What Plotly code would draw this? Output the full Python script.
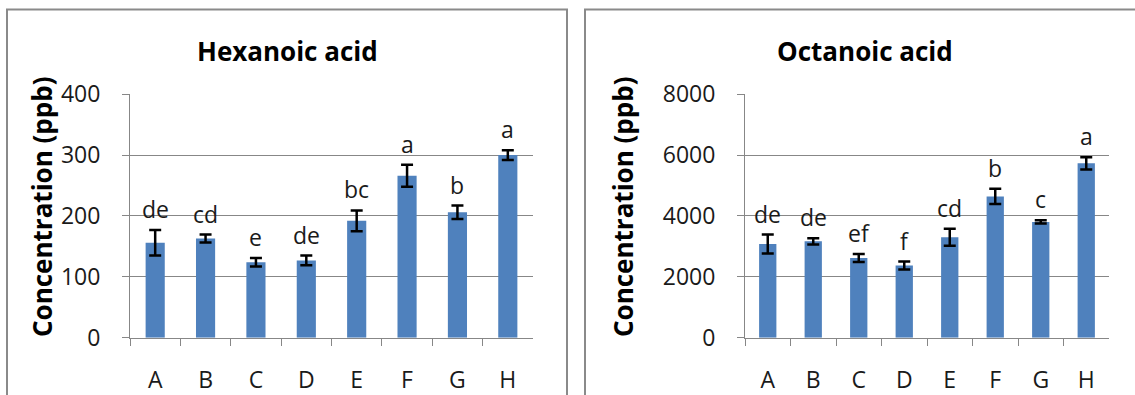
import plotly.graph_objects as go

categories = ["A", "B", "C", "D", "E", "F", "G", "H"]

hex_values = [156, 163, 124, 127, 192, 266, 206, 300]
hex_errors = [21, 6.5, 7, 8, 17, 18, 11, 8]
hex_letters = ["de", "cd", "e", "de", "bc", "a", "b", "a"]

oct_values = [3080, 3165, 2620, 2370, 3300, 4640, 3805, 5730]
oct_errors = [310, 100, 130, 130, 280, 250, 50, 200]
oct_letters = ["de", "de", "ef", "f", "cd", "b", "c", "a"]

W, H = 1135, 395
BAR = "#4F81BD"
GRID = "#878787"
FONT = "Open Sans"
TXT = "#1a1a1a"


def px(x):
    return x / W


def py(y):
    return (H - y) / H


fig = go.Figure()

panels = [
    ("x", "y", hex_values, hex_errors, hex_letters),
    ("x2", "y2", oct_values, oct_errors, oct_letters),
]

for xa, ya, vals, errs, letters in panels:
    fig.add_trace(go.Bar(
        x=categories, y=vals, xaxis=xa, yaxis=ya,
        marker=dict(color=BAR, line=dict(width=0)),
        error_y=dict(type="data", array=errs, visible=True,
                     color="black", thickness=2.5, width=6),
        showlegend=False, hoverinfo="skip",
    ))
    for c, v, e, l in zip(categories, vals, errs, letters):
        fig.add_annotation(
            x=c, y=v + e, xref=xa, yref=ya, text=l, showarrow=False,
            yanchor="bottom", yshift=3,
            font=dict(family=FONT, size=23, color=TXT),
        )

common_x = dict(
    showline=True, linecolor=GRID, linewidth=1,
    ticks="outside", tickson="boundaries", ticklen=7, tickcolor=GRID,
    tickfont=dict(family=FONT, size=23, color=TXT),
    ticklabelstandoff=22, showgrid=False, fixedrange=True, automargin=False,
)
common_y = dict(
    showline=True, linecolor=GRID, linewidth=1,
    ticks="outside", ticklen=7, tickcolor=GRID,
    showgrid=True, gridcolor=GRID, gridwidth=1,
    tickfont=dict(family=FONT, size=23, color=TXT),
    ticklabelstandoff=17, zeroline=False, fixedrange=True, automargin=False,
)

ydom = [py(337.7), py(94.2)]

fig.update_layout(
    width=W, height=H, autosize=False,
    margin=dict(l=0, r=0, t=0, b=0, pad=0),
    paper_bgcolor="white", plot_bgcolor="white",
    bargap=0.62,
    xaxis=dict(domain=[px(130), px(533)], anchor="y", **common_x),
    yaxis=dict(domain=ydom, anchor="x", range=[0, 400],
               tickvals=[0, 100, 200, 300, 400], **common_y),
    xaxis2=dict(domain=[px(745), px(1109)], anchor="y2", **common_x),
    yaxis2=dict(domain=ydom, anchor="x2", range=[0, 8000],
                tickvals=[0, 2000, 4000, 6000, 8000], **common_y),
)

# panel frames
fig.add_shape(type="rect", xref="paper", yref="paper",
              x0=px(7), x1=px(567), y0=-0.2, y1=py(9.5),
              line=dict(color="#8a8a8a", width=2), layer="below")
fig.add_shape(type="rect", xref="paper", yref="paper",
              x0=px(585), x1=1.2, y0=-0.2, y1=py(9.5),
              line=dict(color="#8a8a8a", width=2), layer="below")

# titles
for xc, t in [(287, "Hexanoic acid"), (865, "Octanoic acid")]:
    fig.add_annotation(x=px(xc), y=py(51), xref="paper", yref="paper",
                       text="<b>" + t + "</b>", showarrow=False,
                       xanchor="center", yanchor="middle",
                       font=dict(family=FONT, size=26, color="black"))

# y-axis titles
for xc in [42, 623]:
    fig.add_annotation(x=px(xc), y=py(207), xref="paper", yref="paper",
                       text="<b>Concentration (ppb)</b>", showarrow=False,
                       textangle=-90, xanchor="center", yanchor="middle",
                       font=dict(family=FONT, size=26, color="black"))

post = """
document.body.style.margin='0';
document.body.style.overflow='hidden';
"""

fig.write_html("out.html", post_script=post,
               config={"displayModeBar": False, "staticPlot": True})
